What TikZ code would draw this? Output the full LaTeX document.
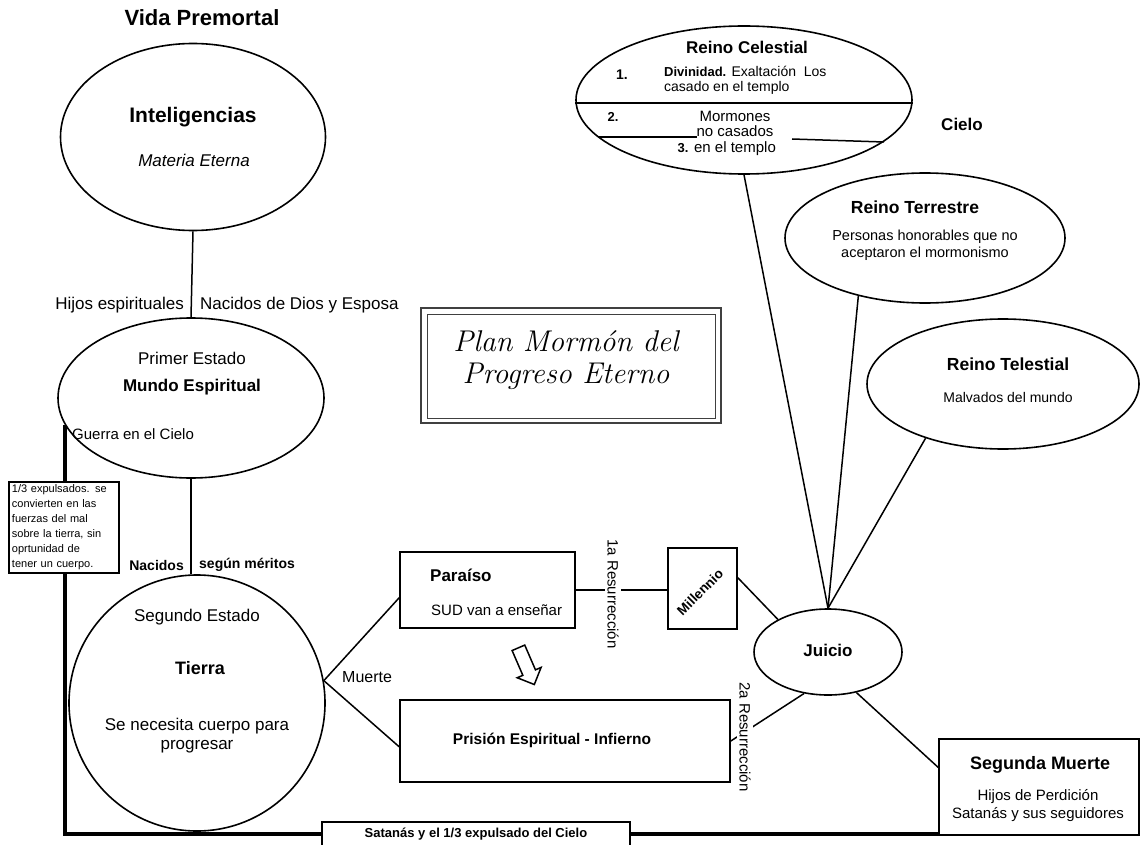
\documentclass[tikz,border=0pt]{standalone}
\usepackage{fontspec}
\setsansfont{Liberation Sans}
\renewcommand*\familydefault{\sfdefault}
\usetikzlibrary{shapes.geometric,shapes.arrows,calc}
\pgfdeclarelayer{bg}
\pgfsetlayers{bg,main}
\newcommand\fsz[2]{\fontsize{#1}{#2}\selectfont}
\begin{document}
\begin{tikzpicture}[x=1pt,y=-1pt,font=\sffamily,
  ell/.style={draw,ellipse,line width=1.6pt,inner sep=0pt,fill=white},
  boxn/.style={draw,rectangle,line width=1.6pt,inner sep=0pt,fill=white},
  ln/.style={line width=1.5pt},
  thk/.style={line width=4pt},
  lbl/.style={inner sep=0pt,align=center},
  bl/.style={lbl,font=\sffamily\bfseries\fsz{#1}{#1}},
  rg/.style={lbl,font=\sffamily\fsz{#1}{#1}},
]
\useasboundingbox (0,0) rectangle (1140,845);

% ---------- shapes ----------
\node[ell,minimum width=265pt,minimum height=187pt] (int) at (193,137) {};
\node[ell,minimum width=266pt,minimum height=160pt] (mun) at (191,398) {};
\node[ell,minimum width=256pt,minimum height=256pt] (tie) at (197,703) {};
\node[ell,minimum width=336pt,minimum height=148pt] (cel) at (744,100) {};
\node[ell,minimum width=280pt,minimum height=130pt] (ter) at (925,238) {};
\node[ell,minimum width=272pt,minimum height=130pt] (tel) at (1003,384) {};
\node[ell,minimum width=148pt,minimum height=86pt] (jui) at (828,652) {};
\node[boxn,minimum width=175pt,minimum height=76pt] (par) at (487.5,590) {};
\node[boxn,minimum width=69pt,minimum height=81pt] (mil) at (702.5,588.5) {};
\node[boxn,minimum width=330pt,minimum height=82pt] (pri) at (565,741) {};
\node[boxn,minimum width=200pt,minimum height=96pt] (sm) at (1039,787) {};
\node[boxn,minimum width=308pt,minimum height=24pt,font=\sffamily\bfseries\fsz{13}{13}] (sat) at (476,834) {Satanás y el 1/3 expulsado del Cielo};
\node[boxn,line width=1.4pt,text width=104pt,inner sep=3pt,align=left,font=\sffamily\fsz{11}{15}] (exp) at (64,527.5)
  {1/3 expulsados. se\\convierten en las\\fuerzas del mal\\sobre la tierra, sin\\oprtunidad de\\tener un cuerpo.};
\node[draw=black!75,line width=1.5pt,minimum width=300pt,minimum height=115pt,inner sep=0pt] (plo) at (571,365.5) {};
\node[draw=black!75,line width=1pt,minimum width=288pt,minimum height=104pt,inner sep=0pt] (pli) at (571,366) {};
\node[draw,single arrow,line width=1.5pt,minimum height=40pt,minimum width=26pt,
      single arrow head extend=6pt,inner sep=6pt,rotate=-66.6,fill=white] (arr) at (525,663) {};

% ---------- connectors ----------
\begin{pgfonlayer}{bg}
\draw[ln] (int.south) -- (mun.north);
\draw[ln] (mun.south) -- (mun.south |- tie.north);
\draw[thk] (mun.192) |- (sat.west);
\draw[thk] (sat.east) -- (sat.east -| sm.west);
\draw[ln] (tie.10) -- (par.185);
\draw[ln] (tie.10) -- (pri.182);
\draw[ln] (par.east) -- (par.east -| mil.west);
\draw[ln] (mil.17) -- (jui.147);
\draw[ln] (pri.east) -- (jui.240);
\draw[ln] (jui.north) -- (cel.south);
\draw[ln] (jui.north) -- (ter.221);
\draw[ln] (jui.north) -- (tel.215);
\draw[ln] (jui.305) -- (sm.169);
\end{pgfonlayer}

% celestial inner dividers
\draw[ln] (cel.181) -- (cel.359);
\draw[ln] (598,137) -- (697,137);
\draw[ln] (792,139) -- (884,142);

% ---------- labels ----------
\node[bl=22] (t1) at (202,18) {Vida Premortal};
\node[bl=21] (l1) at (193,117) {Inteligencias};
\node[lbl,font=\sffamily\itshape\fsz{17}{17}] (l2) at (194,160) {Materia Eterna};
\node[rg=17,anchor=east] (l3) at (184,305) {Hijos espirituales};
\node[rg=17,anchor=west] (l4) at (200,305) {Nacidos de Dios y Esposa};
\node[rg=17] (l5) at (192,358) {Primer Estado};
\node[bl=17] (l6) at (192,387) {Mundo Espiritual};
\node[rg=15,anchor=west] (l7) at (72,434) {Guerra en el Cielo};
\node[bl=14,anchor=east] (l8) at (184,565) {Nacidos};
\node[bl=14,anchor=west] (l9) at (199,565) {según méritos};
\node[rg=17] (l10) at (197,617) {Segundo Estado};
\node[bl=18] (l11) at (200,668) {Tierra};
\node[lbl,font=\sffamily\fsz{17}{19}] (l12) at (197,736) {Se necesita cuerpo para\\progresar};
\node[rg=16,anchor=west] (l13) at (342,677) {Muerte};
\node[bl=17,anchor=west] (l14) at (430,575) {Paraíso};
\node[rg=15,anchor=west] (l15) at (431,610) {SUD van a enseñar};
\node[rg=15,rotate=-90,fill=white,inner sep=2pt] (l16) at (613,594) {1a Resurrección};
\node[bl=13.5,rotate=45] (l17) at (700,592) {Millennio};
\node[bl=17] (l18) at (828,650) {Juicio};
\node[bl=15.5] (l19) at (552,740) {Prisión Espiritual - Infierno};
\node[rg=15,rotate=-90,fill=white,inner sep=2pt] (l20) at (745,737) {2a Resurrección};
\node[bl=18] (l21) at (1040,765) {Segunda Muerte};
\node[lbl,font=\sffamily\fsz{15}{18}] (l22) at (1038,806) {Hijos de Perdición\\Satanás y sus seguidores};
\node[bl=17] (l23) at (962,124) {Cielo};
\node[bl=17] (l24) at (747,47) {Reino Celestial};
\node[bl=14] (l25) at (622,75) {1.};
\node[lbl,anchor=west,align=left,font=\sffamily\fsz{14}{15}] (l26) at (664,80) {{\bfseries\fsz{13}{15}Divinidad.} Exaltación~ Los\\casado en el templo};
\node[bl=13] (l27) at (613,117) {2.};
\node[lbl,font=\sffamily\fsz{15}{15.5}] (l28) at (735,133) {Mormones\\no casados\\en el templo};
\node[bl=13] (l29) at (683,148) {3.};
\node[bl=17.5] (l30) at (915,207) {Reino Terrestre};
\node[lbl,font=\sffamily\fsz{14.5}{17}] (l31) at (925,245) {Personas honorables que no\\aceptaron el mormonismo};
\node[bl=17.5] (l32) at (1008,364) {Reino Telestial};
\node[rg=14] (l33) at (1008,397) {Malvados del mundo};
\node[lbl,font=\rmfamily\itshape\fsz{30}{32}] (l34) at (566,360) {Plan Mormón del\\Progreso Eterno};
\end{tikzpicture}
\end{document}
